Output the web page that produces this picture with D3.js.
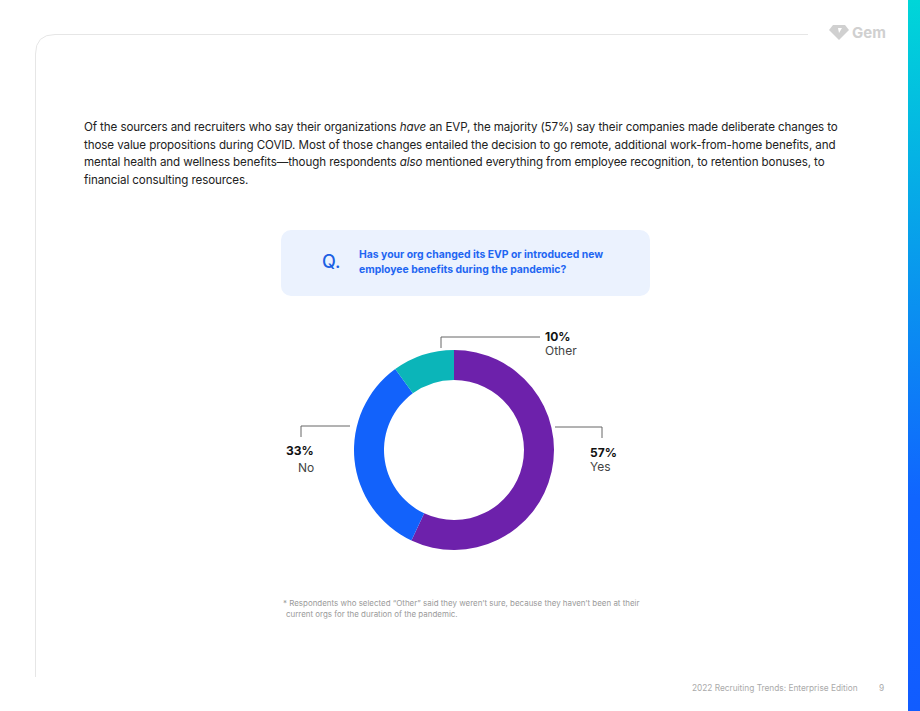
<!DOCTYPE html>
<html>
<head>
<meta charset="utf-8">
<script src="https://cdn.jsdelivr.net/npm/d3@7"></script>
<style>
  body { margin: 0; background: #fff; }
  svg { display: block; font-family: Inter, "Noto Sans", sans-serif; }
</style>
</head>
<body>
<div id="chart"></div>
<script>
// chart data
var categories = ["Yes", "No", "Other"];
var values = [57, 33, 10];
var colors = ["#6d21ab", "#1262fb", "#0bb5b9"];

var width = 920, height = 711;

var svg = d3.select("#chart").append("svg")
    .attr("width", width)
    .attr("height", height);

// side gradient bar
var defs = svg.append("defs");
var grad = defs.append("linearGradient")
    .attr("id", "side").attr("x1", 0).attr("y1", 0).attr("x2", 0).attr("y2", 1);
grad.append("stop").attr("offset", "0%").attr("stop-color", "#00d6d8");
grad.append("stop").attr("offset", "70%").attr("stop-color", "#1065ff");
grad.append("stop").attr("offset", "100%").attr("stop-color", "#115cff");
svg.append("rect").attr("x", 908).attr("y", 0).attr("width", 12).attr("height", height)
    .attr("fill", "url(#side)");

// card outline
svg.append("path")
    .attr("d", "M35.5,677 L35.5,54 Q35.5,34.5 55,34.5 L808,34.5")
    .attr("fill", "none").attr("stroke", "#e6e6e6").attr("stroke-width", 1);

// gem logo
var logo = svg.append("g").attr("transform", "translate(829,25)").attr("fill", "#d0d0d0");
logo.append("path").attr("d", "M4,0 L16,0 L20,5 L10,15 L0,5 Z");
logo.append("path").attr("d", "M9,3 L13,3 L10,8 Z").attr("fill", "#fff");
logo.append("text").attr("x", 23).attr("y", 13)
    .attr("font-size", 15).attr("font-weight", 700).text("Gem");

// intro paragraph
var para = [
  ["Of the sourcers and recruiters who say their organizations ", ["have"], " an EVP, the majority (57%) say their companies made deliberate changes to"],
  ["those value propositions during COVID. Most of those changes entailed the decision to go remote, additional work-from-home benefits, and"],
  ["mental health and wellness benefits\u2014though respondents ", ["also"], " mentioned everything from employee recognition, to retention bonuses, to"],
  ["financial consulting resources."]
];
para.forEach(function(line, i) {
  var t = svg.append("text").attr("x", 84).attr("y", 131 + i * 17.7)
      .attr("font-size", 11.6).attr("letter-spacing", -0.1).attr("fill", "#222");
  line.forEach(function(part) {
    if (Array.isArray(part)) t.append("tspan").attr("font-style", "italic").text(part[0]);
    else t.append("tspan").text(part);
  });
});

// question box
svg.append("rect").attr("x", 281).attr("y", 230).attr("width", 369).attr("height", 66)
    .attr("rx", 10).attr("fill", "#ebf2fe");
svg.append("text").attr("x", 322).attr("y", 268).attr("font-size", 18)
    .attr("font-weight", 500).attr("fill", "#1b5fe3").text("Q.");
["Has your org changed its EVP or introduced new", "employee benefits during the pandemic?"]
  .forEach(function(s, i) {
    svg.append("text").attr("x", 359).attr("y", 258 + i * 15)
        .attr("font-size", 10.4).attr("font-weight", 700).attr("fill", "#1f66f2").text(s);
  });

// donut
var cx = 454, cy = 450, rOuter = 100, rInner = 70;
var pie = d3.pie().sort(null).value(function(d) { return d; });
var arc = d3.arc().innerRadius(rInner).outerRadius(rOuter);
var arcs = pie(values);

var g = svg.append("g").attr("transform", "translate(" + cx + "," + cy + ")");
g.selectAll("path").data(arcs).enter().append("path")
    .attr("d", arc)
    .attr("fill", function(d, i) { return colors[i]; });

// leader lines and labels (offsets relative to donut centre)
var leaders = [
  { pts: [[101, -23], [148, -23], [148, -12]], pct: [136, 7], name: [136, 21] },
  { pts: [[-104, -24], [-153, -24], [-153, -13]], pct: [-168, 5], name: [-156, 22] },
  { pts: [[-13, -102], [-13, -113], [86, -113]], pct: [91, -109], name: [91, -95] }
];
leaders.forEach(function(l, i) {
  g.append("path").attr("d", d3.line()(l.pts))
      .attr("fill", "none").attr("stroke", "#666").attr("stroke-width", 1);
  g.append("text").attr("x", l.pct[0]).attr("y", l.pct[1])
      .attr("font-size", 12).attr("font-weight", 700).attr("fill", "#111")
      .text(values[i] + "%");
  g.append("text").attr("x", l.name[0]).attr("y", l.name[1])
      .attr("font-size", 12).attr("fill", "#444").text(categories[i]);
});

// footnote
["* Respondents who selected \u201cOther\u201d said they weren\u2019t sure, because they haven\u2019t been at their",
 " current orgs for the duration of the pandemic."].forEach(function(s, i) {
  svg.append("text").attr("x", i ? 286 : 283).attr("y", 606 + i * 10.5)
      .attr("font-size", 7.95).attr("fill", "#9a9a9a").text(s);
});

// footer
svg.append("text").attr("x", 692).attr("y", 691).attr("font-size", 8.3).attr("fill", "#aaa")
    .text("2022 Recruiting Trends: Enterprise Edition");
svg.append("text").attr("x", 879).attr("y", 691).attr("font-size", 8.3).attr("fill", "#aaa")
    .text("9");
</script>
</body>
</html>
